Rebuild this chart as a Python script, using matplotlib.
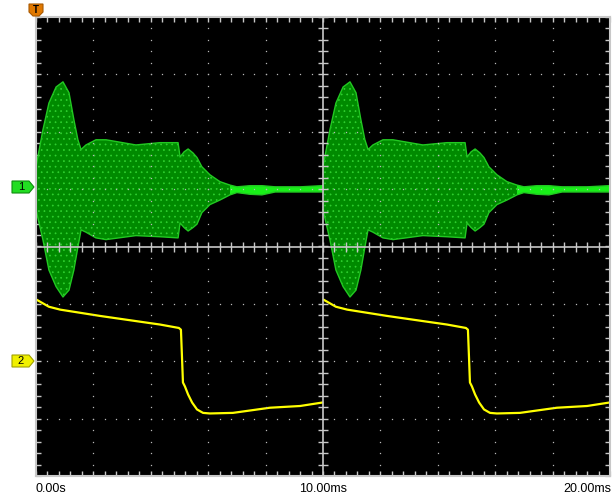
import numpy as np
import matplotlib.pyplot as plt
from matplotlib.patches import Polygon

# scope screen: 2 ms/div over 10 div, 8 div high
# ch1 (green) = burst envelope, in div relative to its ground marker
ch1_t = [0.00, 0.24, 0.45, 0.70, 0.94, 1.15, 1.32, 1.46, 1.57, 1.74, 2.09, 2.44, 3.48, 4.32, 4.95,
         5.02, 5.16, 5.30, 5.47, 5.61, 5.78, 6.06, 6.41, 6.76, 7.00, 7.46, 7.87, 8.33, 9.20, 9.97]
ch1_hi = [0.39, 1.03, 1.50, 1.78, 1.87, 1.68, 1.21, 0.86, 0.69, 0.77, 0.86, 0.86, 0.77, 0.81, 0.81,
          0.56, 0.65, 0.70, 0.63, 0.55, 0.39, 0.25, 0.13, 0.07, 0.04, 0.06, 0.06, 0.04, 0.04, 0.06]
ch1_lo = [-0.36, -0.88, -1.41, -1.70, -1.88, -1.76, -1.41, -1.01, -0.71, -0.75, -0.85, -0.88, -0.81, -0.83, -0.85,
          -0.59, -0.67, -0.73, -0.67, -0.61, -0.41, -0.27, -0.19, -0.10, -0.06, -0.09, -0.10, -0.05, -0.05, -0.05]

# ch2 (yellow), div relative to its ground marker
ch2_t = [0.03, 0.45, 0.84, 2.23, 3.62, 4.32, 4.98, 5.05, 5.09, 5.12, 5.19, 5.30, 5.44, 5.61, 5.82,
         6.06, 6.86, 8.15, 9.20, 9.97]
ch2_v = [1.07, 0.95, 0.90, 0.79, 0.69, 0.64, 0.58, 0.55, 0.03, -0.37, -0.44, -0.58, -0.72, -0.84, -0.90,
         -0.91, -0.90, -0.81, -0.78, -0.72]

period_ms = 10.0   # same shape repeats on both halves of the screen
ch1_gnd = 1.0
ch2_gnd = -2.0

fig = plt.figure(figsize=(6.15, 4.99), dpi=100)
ax = fig.add_axes([36/615, 23/499, 574/615, 459/499])
ax.set_facecolor('black')
ax.set_xlim(0, 20)
ax.set_ylim(-4, 4)

plt.rcParams['hatch.linewidth'] = 0.5
for k in range(2):
    t = np.array(ch1_t) + k*period_ms
    hi = np.array(ch1_hi) + ch1_gnd
    lo = np.array(ch1_lo) + ch1_gnd
    ax.fill_between(t, lo, hi, facecolor='#008a00', edgecolor='#30d030', hatch='...', lw=0, zorder=2)
    ax.fill_between(t, lo, hi, where=t >= 6.7 + k*period_ms, facecolor='#18f018', lw=0, zorder=2.5)
    ax.plot(t, hi, color='#22c822', lw=1, zorder=3)
    ax.plot(t, lo, color='#22c822', lw=1, zorder=3)

    t2 = np.array(ch2_t) + k*period_ms
    ax.plot(t2, np.array(ch2_v) + ch2_gnd, color='#ffff00', lw=1.6, zorder=4)

# graticule
gcol = '#c8c8c8'
for s in ax.spines.values():
    s.set_color(gcol)
    s.set_linewidth(1.5)
    s.set_zorder(10)
ax.set_xticks(np.arange(0, 20.01, 0.4))
ax.set_yticks(np.arange(-4, 4.01, 0.2))
ax.tick_params(direction='in', length=3.6, width=1, color=gcol,
               top=True, right=True, labelbottom=False, labelleft=False)
dx = np.arange(0, 20.01, 0.4)
dy = np.arange(-4, 4.01, 0.2)
for gx in [2, 4, 6, 8, 12, 14, 16, 18]:
    ax.plot(np.full_like(dy, gx), dy, ls='none', marker='s', ms=0.9, mew=0, color='#b8b8b8', zorder=8)
for gy in [-3, -2, -1, 1, 2, 3]:
    ax.plot(dx, np.full_like(dx, gy), ls='none', marker='s', ms=0.9, mew=0, color='#b8b8b8', zorder=8)
ax.axvline(10, color=gcol, lw=1.2, zorder=9)
ax.axhline(0, color=gcol, lw=1.2, zorder=9)
ax.plot(np.full_like(dy, 10), dy, ls='none', marker='_', ms=7, mew=1, color=gcol, zorder=9)
ax.plot(dx, np.zeros_like(dx), ls='none', marker='|', ms=7, mew=1, color=gcol, zorder=9)

# overlay in pixel coordinates for markers and labels
ov = fig.add_axes([0, 0, 1, 1], zorder=20)
ov.set_xlim(0, 615)
ov.set_ylim(499, 0)
ov.axis('off')
ov.patch.set_alpha(0)

ov.add_patch(Polygon([(29, 4), (43, 4), (43, 12), (39, 16), (33, 16), (29, 12)],
                     closed=True, fc='#e07800', ec='#a85800', lw=0.8))
ov.text(36, 10, 'T', ha='center', va='center', fontsize=7, fontweight='bold', color='black',
        family='Liberation Sans')
ov.add_patch(Polygon([(12, 181), (29, 181), (34, 187), (29, 193), (12, 193)],
                     closed=True, fc='#22dd22', ec='#108c10', lw=0.8))
ov.text(21, 187.5, '1', ha='center', va='center', fontsize=8, color='black', family='Liberation Sans')
ov.add_patch(Polygon([(12, 355), (29, 355), (34, 361), (29, 367), (12, 367)],
                     closed=True, fc='#f0f000', ec='#a0a000', lw=0.8))
ov.text(21, 361.5, '2', ha='center', va='center', fontsize=8, color='black', family='Liberation Sans')

for x, s, ha in [(35, '0.00s', 'left'), (323, '10.00ms', 'center'), (611, '20.00ms', 'right')]:
    ov.text(x, 489, s, ha=ha, va='center', fontsize=9, color='black', family='Liberation Sans')

fig.savefig('out.png', dpi=100, facecolor='white')
